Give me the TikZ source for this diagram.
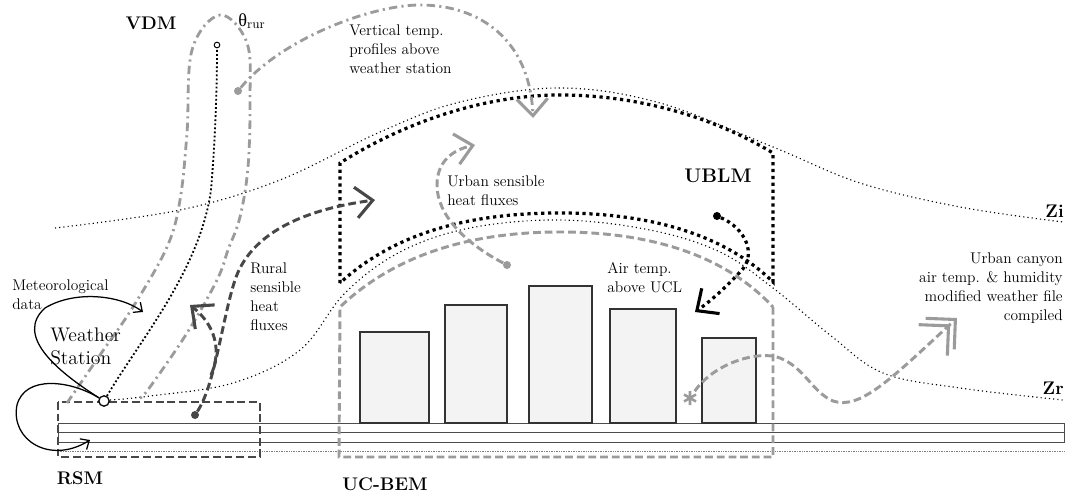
\documentclass[tikz,border=0pt]{standalone}
\usepackage{fontspec}
\usepackage{tikz}
\usetikzlibrary{arrows.meta}
\newfontfamily\greekfont{Liberation Serif}

\definecolor{darkgrey}{HTML}{474747}
\definecolor{lightgrey}{HTML}{9B9B9B}
\definecolor{bldgrey}{HTML}{F3F3F3}

\tikzstyle{txt} = [font=\fontsize{11}{13.5}\selectfont, inner sep=0pt]
\tikzstyle{model} = [font=\fontsize{13}{15}\selectfont\bfseries, inner sep=0pt]
\tikzstyle{building} = [draw=black!80, fill=bldgrey, line width=0.8pt]
\tikzstyle{ground} = [draw=black!70, line width=0.7pt]
\tikzstyle{fine} = [line width=0.8pt, dash pattern=on 0.8pt off 2.2pt]
\tikzstyle{ublm} = [line width=2.3pt, dash pattern=on 2.3pt off 2.6pt]
\tikzstyle{profile} = [line width=1.3pt, dash pattern=on 1.3pt off 1.6pt]
\tikzstyle{rsmbox} = [darkgrey, line width=2.1pt, dash pattern=on 5.5pt off 2.8pt]
\tikzstyle{ucbox} = [lightgrey, line width=2.1pt, dash pattern=on 5.5pt off 2.8pt]
\tikzstyle{vdm} = [lightgrey, line width=2pt, dash pattern=on 6pt off 3pt on 1.5pt off 3pt]
\tikzstyle{rural} = [darkgrey, line width=2.1pt, dash pattern=on 5.5pt off 2.8pt]
\tikzstyle{urban} = [lightgrey, line width=2.1pt, dash pattern=on 5.5pt off 2.8pt]
\tikzstyle{wsline} = [black, line width=0.9pt]
\tikzstyle{blob} = [circle, inner sep=0pt, minimum size=2mm]
\tikzstyle{chevron} = [-{Straight Barb[length=12pt, width=22pt, line width=2.2pt]}]
\tikzstyle{dchevron} = [-{Straight Barb[length=15pt, width=30pt, line width=2.2pt, sep=-11pt] Straight Barb[length=15pt, width=30pt, line width=2.2pt]}]
\tikzstyle{sarrow} = [-{Straight Barb[length=5pt, width=9pt, line width=0.9pt]}]

\begin{document}
\begin{tikzpicture}[x=0.025cm, y=-0.025cm]
\useasboundingbox (0,0) rectangle (1067,499);

% Ground and buildings
\draw[ground] (58,423) rectangle (1064,432);
\draw[ground] (58,432) rectangle (1064,442);
\draw[gray, line width=0.5pt, dash pattern=on 0.6pt off 0.6pt] (58,451) -- (1064,451);
\draw[building] (360,332) rectangle (429,423);
\draw[building] (445,305) rectangle (507,423);
\draw[building] (529,286) rectangle (592,423);
\draw[building] (610,309) rectangle (676,423);
\draw[building] (702,338) rectangle (756,423);

% Zi and Zr
\draw[fine] plot[smooth, tension=0.6] coordinates {(55,228) (180,210) (280,180) (380,132) (460,102) (560,88) (660,103) (773,147) (860,183) (960,207) (1063,222)};
\draw[fine] plot[smooth, tension=0.6] coordinates {(110,400) (150,396) (233,383) (300,350) (345,293) (400,252) (470,228) (560,220) (650,230) (720,252) (773,288) (830,335) (883,373) (960,388) (1063,400)};

% Model boxes
\draw[rsmbox] (58,402) rectangle (260,457);
\draw[ucbox] (773,307) -- (773,457) -- (339,457) -- (340,307) .. controls (400,250) and (480,232) .. (560,232) .. controls (640,232) and (720,250) .. (773,307);
\draw[ublm] (340,283) -- (340,163) .. controls (400,125) and (480,95) .. (560,95) .. controls (640,95) and (715,118) .. (773,153) -- (773,282) .. controls (720,230) and (640,213) .. (560,213) .. controls (480,213) and (400,228) .. (340,283);
\draw[vdm] plot[smooth, tension=0.6] coordinates {(67,403) (100,355) (133,307) (167,247) (180,200) (187,133) (192,50) (220,15) (247,43) (250,100) (248,167) (240,217) (228,250) (217,280) (187,333) (150,387) (140,398)};

% Nodes
\node (ws) [circle, draw, fill=white, line width=0.9pt, inner sep=0pt, minimum size=2.6mm] at (104,401) {};
\node (top) [circle, draw, fill=white, line width=0.7pt, inner sep=0pt, minimum size=1.4mm] at (217,45) {};
\node (vdot) [blob, fill=lightgrey] at (238,91) {};
\node (rdot) [blob, fill=darkgrey] at (195,415) {};
\node (udot) [blob, fill=lightgrey] at (507,265) {};
\node (adot) [blob, fill=black] at (717,216) {};
\node (ast) [circle, inner sep=0pt, minimum size=4mm] at (690,398) {};
\coordinate (vtip) at (533,118);
\coordinate (rtip) at (375,200);
\coordinate (rfork) at (211,375);
\coordinate (rtip2) at (190,305);
\coordinate (utip) at (475,145);
\coordinate (atip) at (695,312);
\coordinate (ctip) at (957,318);
\coordinate (mtip) at (143,312);
\coordinate (ltip) at (90,440);

\node (vdm) [model] at (151,23) {VDM};
\node (theta) [inner sep=0pt, font=\fontsize{13}{13}\selectfont] at (252,21) {{\greekfont θ}\textsubscript{rur}};
\node (vtxt) [txt, anchor=west, align=left] at (349,49) {Vertical temp.\\profiles above\\weather station};
\node (utxt) [txt, anchor=west, align=left] at (447,191) {Urban sensible\\heat fluxes};
\node (ublm) [model, font=\fontsize{14}{16}\selectfont\bfseries] at (718,176) {UBLM};
\node (atxt) [txt, anchor=west, align=left] at (607,278) {Air temp.\\above UCL};
\node (ctxt) [txt, anchor=east, align=right] at (1063,288) {Urban canyon\\air temp. \& humidity\\modified weather file\\compiled};
\node (zi) [model, anchor=east] at (1064,211) {Zi};
\node (zr) [model, anchor=east] at (1064,388) {Zr};
\node (mtxt) [txt, anchor=west, align=left] at (12,295) {Meteorological\\data};
\node (wtxt) [font=\fontsize{14}{16.5}\selectfont, inner sep=0pt, anchor=west, align=left] at (50,346) {Weather\\Station};
\node (rtxt) [txt, anchor=west, align=left] at (250,297) {Rural\\sensible\\heat\\fluxes};
\node (rsm) [model] at (80,478) {RSM};
\node (ucbem) [model] at (385,484) {UC-BEM};

% Arrows
\draw[wsline, sarrow] (ws) .. controls (55,370) and (15,335) .. (45,308) .. controls (75,290) and (120,295) .. (mtip);
\draw[wsline, sarrow] (ws) .. controls (70,380) and (25,375) .. (17,405) .. controls (10,440) and (50,465) .. (ltip);
\draw[profile] (ws) .. controls (140,340) and (200,270) .. (211,190) .. controls (216,130) and (217,80) .. (top);
\draw[vdm, chevron] (vdot) .. controls (280,40) and (370,5) .. (420,5) .. controls (480,5) and (530,40) .. (vtip);
\draw[rural, chevron] (rdot) .. controls (215,385) and (222,320) .. (235,280) .. controls (250,235) and (300,210) .. (rtip);
\draw[rural, chevron] (rfork) .. controls (222,350) and (215,325) .. (rtip2);
\draw[urban, chevron] (udot) .. controls (465,243) and (437,215) .. (437,185) .. controls (437,162) and (452,150) .. (utip);
\draw[ublm, chevron] (adot) .. controls (745,228) and (758,255) .. (740,272) .. controls (725,288) and (712,300) .. (atip);
\draw[urban, dchevron] (ast) .. controls (715,362) and (760,350) .. (780,358) .. controls (805,368) and (812,392) .. (833,401) .. controls (860,410) and (890,380) .. (ctip);
\draw[lightgrey, line width=1.8pt] (ast.center) ++(0,-7) -- ++(0,14) (ast.center) ++(-6,-3.5) -- ++(12,7) (ast.center) ++(-6,3.5) -- ++(12,-7);

\end{tikzpicture}
\end{document}
